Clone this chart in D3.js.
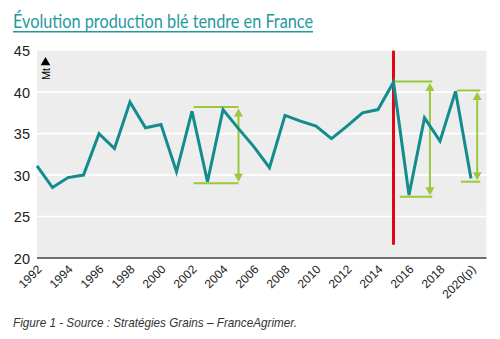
<!DOCTYPE html>
<html><head><meta charset="utf-8">
<script src="https://cdn.jsdelivr.net/npm/d3@7"></script>
<style>
html,body{margin:0;padding:0;background:#fff;}
svg{display:block;}
</style></head>
<body>
<svg id="chart" width="500" height="339"></svg>
<script>
const title = "Évolution production blé tendre en France";
const caption = "Figure 1 - Source : Stratégies Grains – FranceAgrimer.";
const unitLabel = "Mt";
const years = [1992,1993,1994,1995,1996,1997,1998,1999,2000,2001,2002,2003,2004,2005,2006,2007,2008,2009,2010,2011,2012,2013,2014,2015,2016,2017,2018,2019,2020];
const production = [31.1,28.5,29.7,30.0,35.0,33.2,38.8,35.7,36.1,30.4,37.7,29.2,37.9,35.6,33.4,30.9,37.2,36.5,35.9,34.4,35.9,37.5,37.9,41.2,27.6,36.9,34.1,40.1,29.6];
const tickYears = [1992,1994,1996,1998,2000,2002,2004,2006,2008,2010,2012,2014,2016,2018,2020];
const tickLabels = ["1992","1994","1996","1998","2000","2002","2004","2006","2008","2010","2012","2014","2016","2018","2020(p)"];
const yTicks = [20,25,30,35,40,45];
// variation annotations: horizontal bracket lines and vertical double arrows
const annX0Top = [2002.1, 2015.0, 2019.1];
const annX1Top = [2005.0, 2017.5, 2020.6];
const annX0Bot = [2002.1, 2015.4, 2019.35];
const annX1Bot = [2005.0, 2017.5, 2020.6];
const annTop = [38.2, 41.3, 40.2];
const annBot = [29.0, 27.4, 29.2];
const annArrowX = [2005.0, 2017.35, 2020.4];
const markerYear = 2015;
const markerRange = [21.6, 45];

const teal = "#128c8f", green = "#9cc83c", red = "#e30613", titleColor = "#1f9aa0";
const svg = d3.select("#chart");
const x = d3.scaleLinear().domain([1992, 2021]).range([37, 486.5]);
const y = d3.scaleLinear().domain([20, 45]).range([258, 50.7]);

// title
const t = svg.append("text").attr("x", 13).attr("y", 28)
  .attr("font-family", "Lato, 'Open Sans', sans-serif").attr("font-size", 18.5)
  .attr("fill", titleColor).text(title)
  .attr("textLength", 300).attr("lengthAdjust", "spacingAndGlyphs");
svg.append("line").attr("x1", 13).attr("x2", 313).attr("y1", 31.7).attr("y2", 31.7)
  .attr("stroke", titleColor).attr("stroke-width", 1.4);

// plot background
svg.append("rect").attr("x", x(1992)).attr("y", y(45)).attr("width", x(2021) - x(1992))
  .attr("height", y(20) - y(45)).attr("fill", "#ededed");

// gridlines
svg.append("g").selectAll("line").data(yTicks.filter(d => d > 20 && d < 45)).join("line")
  .attr("x1", x(1992)).attr("x2", x(2021)).attr("y1", d => y(d)).attr("y2", d => y(d))
  .attr("stroke", "#fff").attr("stroke-width", 1.6);

// y axis labels
const yAxis = d3.axisLeft(y).tickValues(yTicks).tickSize(0).tickPadding(7);
const gy = svg.append("g").attr("transform", `translate(${x(1992)},0)`).call(yAxis);
gy.select(".domain").remove();
gy.selectAll("text").attr("font-family", "'Liberation Sans', Arial, sans-serif")
  .attr("font-size", 14.5).attr("fill", "#222").attr("dy", "0.35em");

// x axis
const xAxis = d3.axisBottom(x).tickValues(tickYears).tickSize(0).tickFormat((d, i) => tickLabels[i]);
const gx = svg.append("g").attr("transform", `translate(0,${y(20)})`).call(xAxis);
gx.select(".domain").remove();
gx.selectAll("text")
  .attr("font-family", "'Liberation Sans Narrow', 'Liberation Sans', Arial, sans-serif")
  .attr("font-size", 12).attr("fill", "#222")
  .attr("text-anchor", "end").attr("y", 0).attr("dy", 0)
  .attr("transform", "translate(5,12) rotate(-45)");
svg.append("line").attr("x1", x(1992)).attr("x2", x(2021)).attr("y1", y(20)).attr("y2", y(20))
  .attr("stroke", "#707070").attr("stroke-width", 2);

// unit marker
svg.append("path").attr("d", d3.symbol(d3.symbolTriangle, 40)())
  .attr("transform", `translate(45.5,62.5)`).attr("fill", "#000");
svg.append("text").attr("transform", "translate(49.5,74) rotate(-90)")
  .attr("text-anchor", "middle").attr("font-family", "'Liberation Sans', Arial, sans-serif")
  .attr("font-size", 11).attr("fill", "#000").text(unitLabel);

// red marker line
svg.append("line").attr("x1", x(markerYear)).attr("x2", x(markerYear))
  .attr("y1", y(markerRange[1])).attr("y2", y(markerRange[0]))
  .attr("stroke", red).attr("stroke-width", 3);

// annotations
const ann = annTop.map((d, i) => ({i}));
const ga = svg.append("g");
ga.selectAll("line.top").data(ann).join("line").attr("class", "top")
  .attr("x1", d => x(annX0Top[d.i])).attr("x2", d => x(annX1Top[d.i]))
  .attr("y1", d => y(annTop[d.i])).attr("y2", d => y(annTop[d.i]))
  .attr("stroke", green).attr("stroke-width", 2);
ga.selectAll("line.bot").data(ann).join("line").attr("class", "bot")
  .attr("x1", d => x(annX0Bot[d.i])).attr("x2", d => x(annX1Bot[d.i]))
  .attr("y1", d => y(annBot[d.i])).attr("y2", d => y(annBot[d.i]))
  .attr("stroke", green).attr("stroke-width", 2);
ga.selectAll("line.vert").data(ann).join("line").attr("class", "vert")
  .attr("x1", d => x(annArrowX[d.i])).attr("x2", d => x(annArrowX[d.i]))
  .attr("y1", d => y(annTop[d.i]) + 4).attr("y2", d => y(annBot[d.i]) - 4)
  .attr("stroke", green).attr("stroke-width", 2);
ga.selectAll("path.up").data(ann).join("path").attr("class", "up")
  .attr("d", d => { const cx = x(annArrowX[d.i]), ty = y(annTop[d.i]) + 1.5;
    return `M${cx},${ty}L${cx + 4.5},${ty + 8}L${cx - 4.5},${ty + 8}Z`; })
  .attr("fill", green);
ga.selectAll("path.down").data(ann).join("path").attr("class", "down")
  .attr("d", d => { const cx = x(annArrowX[d.i]), by = y(annBot[d.i]) - 1.5;
    return `M${cx},${by}L${cx + 4.5},${by - 8}L${cx - 4.5},${by - 8}Z`; })
  .attr("fill", green);

// production line
const line = d3.line().x((d, i) => x(years[i])).y(d => y(d));
svg.append("path").datum(production).attr("d", line)
  .attr("fill", "none").attr("stroke", teal).attr("stroke-width", 3)
  .attr("stroke-linejoin", "miter");

// caption
svg.append("text").attr("x", 13).attr("y", 327)
  .attr("font-family", "'Liberation Sans Narrow', 'Liberation Sans', Arial, sans-serif")
  .attr("font-style", "italic").attr("font-size", 13).attr("fill", "#333")
  .attr("textLength", 284).attr("lengthAdjust", "spacingAndGlyphs").text(caption);
</script>
</body></html>
